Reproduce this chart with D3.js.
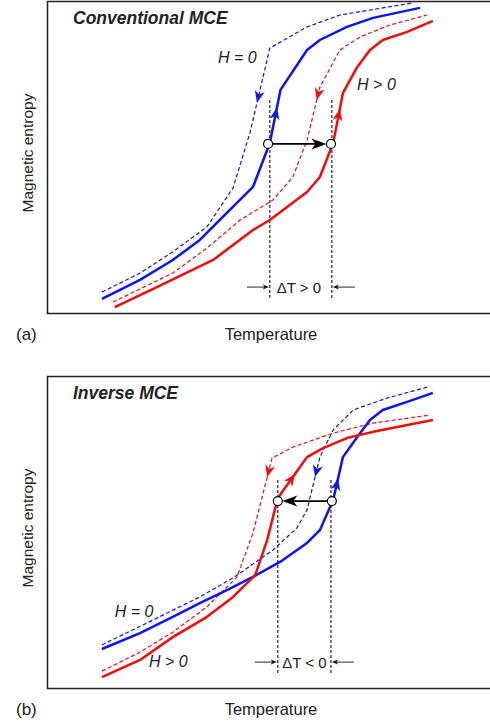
<!DOCTYPE html>
<html>
<head>
<meta charset="utf-8">
<script src="https://d3js.org/d3.v7.min.js"></script>
<style>
  body { margin: 0; background: #fff; }
  text { font-family: "Liberation Sans", Arial, sans-serif; fill: #222; }
</style>
</head>
<body>
<svg id="chart"></svg>
<script>
// temperature (0-100) vs magnetic entropy (0-100), arbitrary units
// (a) conventional MCE
var convBlueSolid = [[12.4,4.5],[21.0,10.6],[28.4,17.0],[34.5,23.4],[40.6,32.1],[46.5,40.4],[50.3,54.5],[52.7,71.5],[58.7,84.3],[61.6,87.5],[67.7,91.7],[73.6,94.6],[84.2,97.8]];
var convBlueDash  = [[12.4,6.7],[21.0,12.8],[28.4,19.6],[36.1,27.6],[42.0,40.1],[45.8,57.7],[50.3,84.9],[58.7,91.7],[66.1,95.5],[82.6,99.4]];
var convRedSolid  = [[15.3,1.9],[24.8,8.3],[37.5,17.0],[46.5,26.6],[50.3,29.8],[58.7,38.8],[61.6,43.6],[64.6,54.5],[66.8,70.5],[70.0,78.8],[72.9,84.3],[75.8,87.5],[81.3,90.1],[87.1,93.6]];
var convRedDash   = [[14.9,3.5],[28.4,12.8],[36.1,20.8],[43.6,29.8],[51.0,36.2],[55.5,43.6],[58.7,55.4],[61.6,72.4],[66.1,84.3],[70.7,88.5],[77.4,92.3],[85.8,95.5]];
// (b) inverse MCE
var invBlueSolid = [[12.4,12.5],[21.0,17.6],[28.4,22.8],[34.5,27.2],[40.6,31.4],[46.5,35.6],[52.6,40.4],[58.7,46.5],[61.6,50.6],[64.6,60.3],[66.8,74.0],[70.0,80.4],[72.9,85.9],[75.8,89.1],[81.3,91.7],[87.1,94.6]];
var invBlueDash  = [[12.4,13.8],[24.8,22.4],[34.5,29.2],[42.0,35.3],[51.0,44.2],[56.4,51.3],[58.7,57.1],[61.6,74.0],[64.6,82.7],[69.1,89.1],[76.7,92.9],[86.0,96.5]];
var invRedSolid  = [[12.4,3.5],[21.0,9.0],[28.4,16.3],[36.1,22.8],[42.0,29.2],[47.0,36.2],[49.7,47.4],[52.1,60.9],[55.5,67.6],[58.7,74.0],[62.3,76.9],[67.7,80.1],[73.6,82.1],[87.1,85.9]];
var invRedDash   = [[12.4,5.4],[21.0,11.5],[28.4,17.9],[36.1,26.0],[42.9,35.6],[46.5,49.7],[50.8,73.7],[55.5,77.2],[64.6,81.7],[73.6,84.9],[86.5,87.5]];

// direction arrows on curves: temperature where they sit
var convArrowT = { blueDash: 47.4, blueSolid: 51.9, redDash: 60.9, redSolid: 66.1 };
var invArrowT  = { blueDash: 60.5, blueSolid: 65.7, redDash: 49.7, redSolid: 56.0 };

// open circles (start, end) and the entropy level
var convPoints = [[49.9,54.2],[64.1,54.2]];
var invPoints  = [[64.3,59.9],[52.1,59.9]];
var convMarkT = [50.3, 64.3], invMarkT = [52.1, 64.1];

var width = 490, height = 723;
var svg = d3.select("#chart").attr("width", width).attr("height", height);

var x = d3.scaleLinear().domain([0, 100]).range([47, 490]);
var blue = "#0a14f5", red = "#f50a0a";

function drawPanel(cfg) {
  var y = d3.scaleLinear().domain([0, 100]).range([cfg.top + 312, cfg.top]);
  var g = svg.append("g");
  var line = d3.line().x(function(d){ return x(d[0]); }).y(function(d){ return y(d[1]); });

  g.append("rect")
    .attr("x", 47.5).attr("y", cfg.top + 0.5)
    .attr("width", 450).attr("height", 312)
    .attr("fill", "none").attr("stroke", "#222").attr("stroke-width", 1.5);

  // vertical dashed markers
  cfg.markT.forEach(function(t){
    g.append("line")
      .attr("x1", x(t)).attr("x2", x(t))
      .attr("y1", y(cfg.markTop)).attr("y2", y(4.5))
      .attr("stroke", "#111").attr("stroke-width", 1.1)
      .attr("stroke-dasharray", "3,2");
  });

  var curves = [
    { key: "blueDash", data: cfg.blueDash, color: blue, dash: true, dir: -1 },
    { key: "redDash", data: cfg.redDash, color: red, dash: true, dir: -1 },
    { key: "blueSolid", data: cfg.blueSolid, color: blue, dash: false, dir: 1 },
    { key: "redSolid", data: cfg.redSolid, color: red, dash: false, dir: 1 }
  ];
  curves.forEach(function(c){
    g.append("path")
      .attr("d", line(c.data))
      .attr("fill", "none")
      .attr("stroke", c.color)
      .attr("stroke-width", c.dash ? 1.2 : 2.5)
      .attr("stroke-dasharray", c.dash ? "4,2.5" : null)
      .attr("stroke-linejoin", "round");

    // arrow head on the curve
    var t = cfg.arrowT[c.key], d = c.data;
    for (var i = 0; i < d.length - 1; i++) {
      if (t >= d[i][0] && t <= d[i+1][0]) break;
    }
    var f = (t - d[i][0]) / (d[i+1][0] - d[i][0]);
    var px = x(t), py = y(d[i][1] + f * (d[i+1][1] - d[i][1]));
    var ang = Math.atan2(y(d[i+1][1]) - y(d[i][1]), x(d[i+1][0]) - x(d[i][0])) * 180 / Math.PI;
    if (c.dir < 0) ang += 180;
    g.append("path")
      .attr("d", "M0,0L-12,-5L-8.5,0L-12,5Z")
      .attr("fill", c.color)
      .attr("transform", "translate(" + px + "," + py + ") rotate(" + ang + ")");
  });

  // black arrow between the two states
  var p0 = cfg.points[0], p1 = cfg.points[1];
  var sgn = p1[0] > p0[0] ? 1 : -1;
  g.append("line")
    .attr("x1", x(p0[0]) + sgn * 4.5).attr("x2", x(p1[0]) - sgn * 10)
    .attr("y1", y(p0[1])).attr("y2", y(p1[1]))
    .attr("stroke", "#000").attr("stroke-width", 1.6);
  g.append("path")
    .attr("d", "M0,0L-15,-5.5L-11,0L-15,5.5Z")
    .attr("fill", "#000")
    .attr("transform", "translate(" + (x(p1[0]) - sgn * 4.5) + "," + y(p1[1]) + ") rotate(" + (sgn > 0 ? 0 : 180) + ")");
  g.selectAll("circle.pt").data(cfg.points).enter().append("circle")
    .attr("class", "pt")
    .attr("cx", function(d){ return x(d[0]); })
    .attr("cy", function(d){ return y(d[1]); })
    .attr("r", 4.5)
    .attr("fill", "#fff").attr("stroke", "#000").attr("stroke-width", 1.2);

  // delta T bracket
  var ly = y(cfg.deltaS);
  var xl = x(cfg.markT[0]), xr = x(cfg.markT[1]);
  [[xl - 23, xl - 1], [xr + 23, xr + 1]].forEach(function(s){
    var dir = s[1] > s[0] ? 1 : -1;
    g.append("line").attr("x1", s[0]).attr("x2", s[1] - dir * 3)
      .attr("y1", ly).attr("y2", ly).attr("stroke", "#111").attr("stroke-width", 0.9);
    g.append("path")
      .attr("d", "M0,0L-6,-2.5L-4.5,0L-6,2.5Z")
      .attr("fill", "#111")
      .attr("transform", "translate(" + s[1] + "," + ly + ") rotate(" + (dir > 0 ? 0 : 180) + ")");
  });
  g.append("text")
    .attr("x", (xl + xr) / 2 + cfg.deltaDx).attr("y", ly + 6)
    .attr("text-anchor", "middle").attr("font-size", 15)
    .text(cfg.deltaText);

  // labels
  g.append("text").attr("x", 73).attr("y", cfg.top + 23)
    .attr("font-size", 17.5).attr("font-weight", "bold").attr("font-style", "italic")
    .text(cfg.title);
  cfg.hLabels.forEach(function(l){
    g.append("text").attr("x", x(l[0])).attr("y", y(l[1]))
      .attr("font-size", 16).attr("font-style", "italic")
      .text(l[2]);
  });

  g.append("text")
    .attr("transform", "translate(33," + (cfg.top + 152) + ") rotate(-90)")
    .attr("text-anchor", "middle").attr("font-size", 15.5)
    .text("Magnetic entropy");
  g.append("text")
    .attr("x", 271).attr("y", cfg.top + 339)
    .attr("text-anchor", "middle").attr("font-size", 16.5)
    .text("Temperature");
  g.append("text")
    .attr("x", 16).attr("y", cfg.top + 339)
    .attr("font-size", 17)
    .text(cfg.tag);
}

drawPanel({
  top: 1, title: "Conventional MCE", tag: "(a)",
  blueSolid: convBlueSolid, blueDash: convBlueDash, redSolid: convRedSolid, redDash: convRedDash,
  arrowT: convArrowT, points: convPoints, markT: convMarkT, markTop: 68.3,
  deltaS: 8.3, deltaText: "\u0394T > 0", deltaDx: -2,
  hLabels: [[38.6, 80.1, "H = 0"], [70.0, 71.5, "H > 0"]]
});
drawPanel({
  top: 376, title: "Inverse MCE", tag: "(b)",
  blueSolid: invBlueSolid, blueDash: invBlueDash, redSolid: invRedSolid, redDash: invRedDash,
  arrowT: invArrowT, points: invPoints, markT: invMarkT, markTop: 66.7,
  deltaS: 8.3, deltaText: "\u0394T < 0", deltaDx: 0,
  hLabels: [[15.3, 22.8, "H = 0"], [23.0, 6.7, "H > 0"]]
});
</script>
</body>
</html>
